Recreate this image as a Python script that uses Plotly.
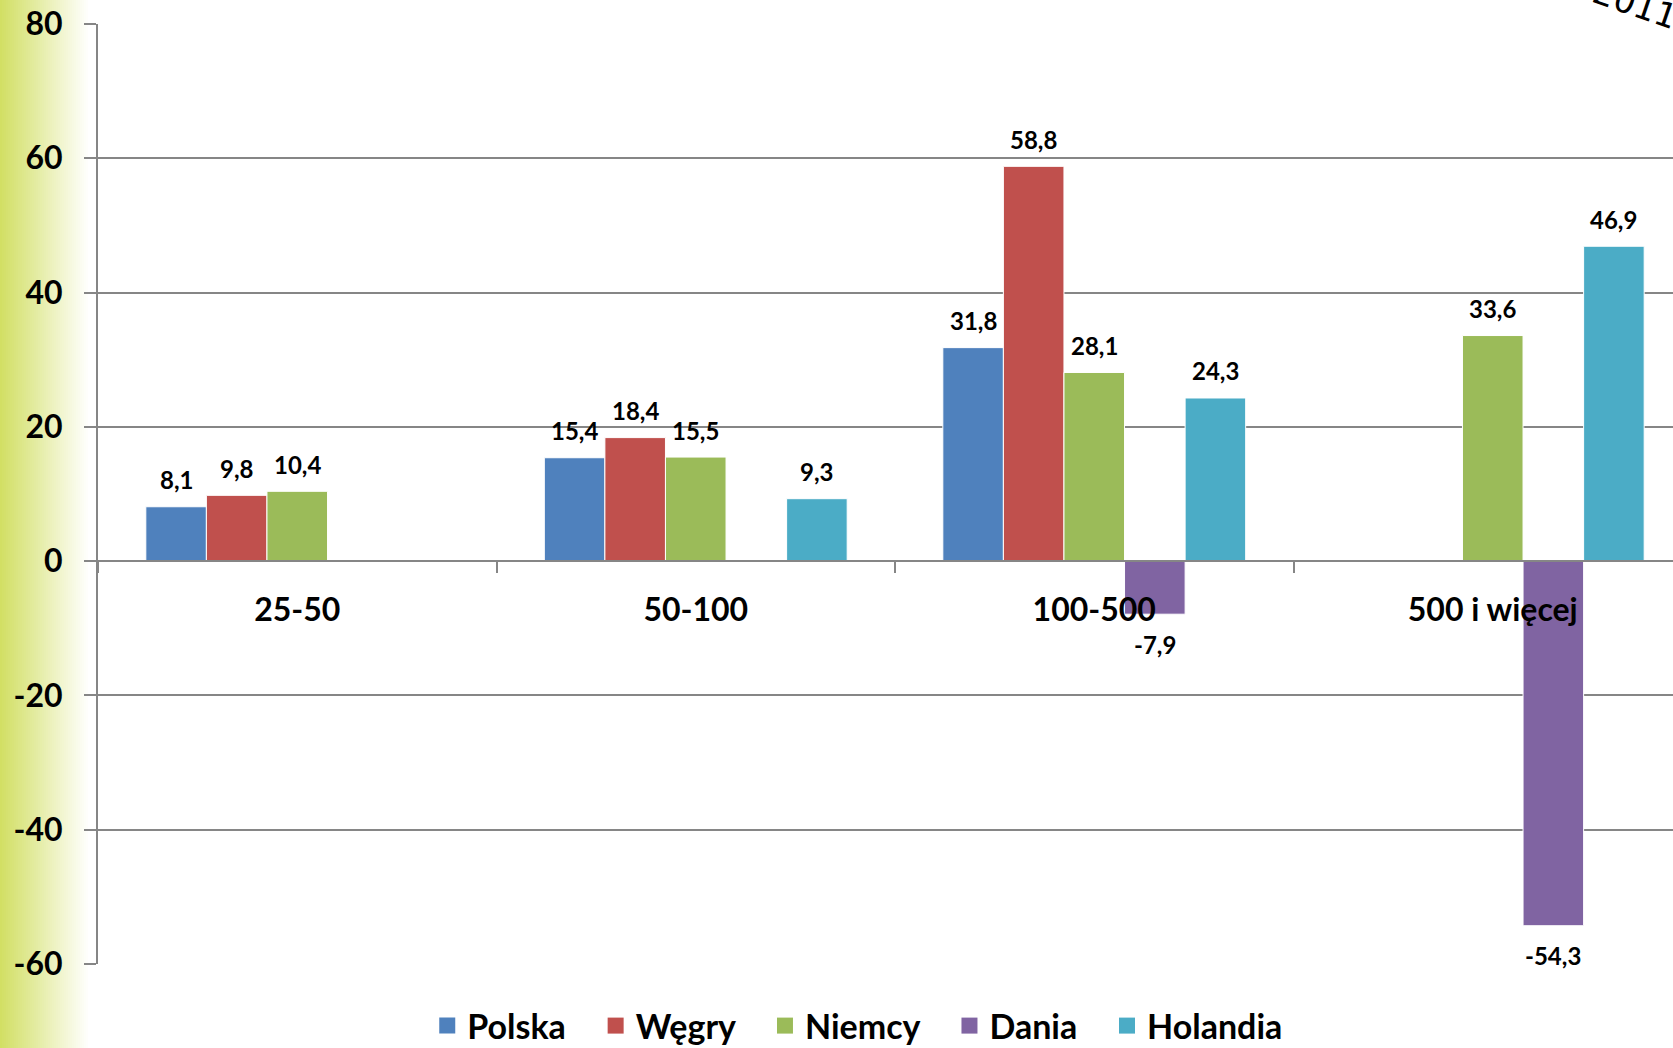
import plotly.graph_objects as go

# Size classes (ha) and the change per country
categories = ["25-50", "50-100", "100-500", "500 i więcej"]
countries = ["Polska", "Węgry", "Niemcy", "Dania", "Holandia"]
polska = [8.1, 15.4, 31.8, None]
wegry = [9.8, 18.4, 58.8, None]
niemcy = [10.4, 15.5, 28.1, 33.6]
dania = [None, None, -7.9, -54.3]
holandia = [None, 9.3, 24.3, 46.9]
series = [polska, wegry, niemcy, dania, holandia]
colors = ["#4F81BD", "#C0504D", "#9BBB59", "#8064A2", "#4BACC6"]
y_ticks = [80, 60, 40, 20, 0, -20, -40, -60]

W, H = 1673, 1048
ML, MT, MB = 98, 24, 84
PW, PH = W - ML, H - MT - MB
GRID = "#868686"
FONT = "Lato"
BARGAP = 0.24

fig = go.Figure()

for name, vals, col in zip(countries, series, colors):
    fig.add_trace(go.Bar(
        x=categories, y=vals, name=name, showlegend=False,
        marker=dict(color=col, line=dict(color="white", width=1)),
    ))

# legend entries with larger square swatches
for name, col in zip(countries, colors):
    fig.add_trace(go.Scatter(
        x=[None], y=[None], mode="markers", name=name + "\u00a0" * 3,
        marker=dict(symbol="square", size=16, color=col),
    ))

# value labels above / below each bar
bar_w = (1 - BARGAP) / len(series)
annotations = []
for si, vals in enumerate(series):
    for ci, v in enumerate(vals):
        if v is None:
            continue
        annotations.append(dict(
            x=ci + (si - (len(series) - 1) / 2) * bar_w, y=v,
            xref="x", yref="y", showarrow=False,
            text=f"{v:.1f}".replace(".", ","),
            yshift=27 if v >= 0 else -30,
            font=dict(family=FONT, size=24, color="black", weight="bold"),
        ))

# year stamp in the top-right corner, tilted and running off the page
annotations.append(dict(
    text="2011", xref="paper", yref="paper", x=1, y=1,
    xanchor="center", yanchor="middle", xshift=-38, yshift=20,
    textangle=19, showarrow=False,
    font=dict(family="DejaVu Sans", size=34, color="black"),
))

# soft green band along the left edge
shapes = []
n = 45
band = 90
c0 = (210, 223, 100)
for i in range(n):
    t = i / (n - 1)
    r, g, b = (round(c + (255 - c) * t) for c in c0)
    x0 = (i * band / n - ML) / PW
    x1 = ((i + 1) * band / n - ML) / PW
    shapes.append(dict(
        type="rect", xref="paper", yref="paper",
        x0=x0, x1=x1, y0=-MB / PH - 0.01, y1=1 + MT / PH + 0.01,
        fillcolor=f"rgb({r},{g},{b})", line=dict(width=0), layer="below",
    ))

cat_px = 398.5
x_end = 3.5 - (ML + 4 * cat_px - W) / cat_px

fig.update_layout(
    width=W, height=H,
    margin=dict(l=ML, r=0, t=MT, b=MB, autoexpand=False),
    paper_bgcolor="white", plot_bgcolor="white",
    barmode="group", bargap=BARGAP, bargroupgap=0,
    shapes=shapes,
    annotations=annotations,
    showlegend=True,
    legend=dict(
        orientation="h", x=0.49, xanchor="center", y=-62 / PH, yanchor="middle",
        font=dict(family=FONT, size=34, color="black", weight="bold"),
        itemwidth=30, tracegroupgap=0,
    ),
    xaxis=dict(
        type="category", range=[-0.5, x_end],
        anchor="free", position=60 / 140,
        showline=True, linecolor=GRID, linewidth=2,
        ticks="outside", tickson="boundaries", ticklen=11,
        tickcolor=GRID, tickwidth=2, showgrid=False,
        tickfont=dict(family=FONT, size=32, color="black", weight="bold"),
        ticklabelstandoff=20,
    ),
    yaxis=dict(
        range=[-60, 80], tickvals=y_ticks, ticktext=[str(v) for v in y_ticks],
        showline=True, linecolor=GRID, linewidth=2,
        ticks="outside", ticklen=12, tickcolor=GRID, tickwidth=2,
        showgrid=True, gridcolor=GRID, gridwidth=2,
        zeroline=True, zerolinecolor=GRID, zerolinewidth=2,
        tickfont=dict(family=FONT, size=32, color="black", weight="bold"),
        ticklabelstandoff=15,
    ),
)

fig.write_html("out.html")
